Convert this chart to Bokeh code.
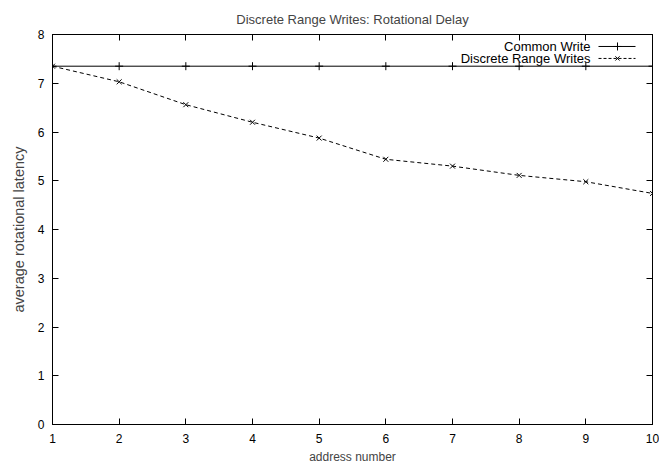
from bokeh.plotting import figure
from bokeh.models import LinearAxis, Range1d, FixedTicker, Title
from bokeh.core.properties import value
from bokeh.embed import file_html
from bokeh.resources import INLINE

# data
address = [1, 2, 3, 4, 5, 6, 7, 8, 9, 10]
common_write = [7.35] * 10
discrete_writes = [7.35, 7.03, 6.56, 6.20, 5.875, 5.44, 5.30, 5.11, 4.98, 4.74]
x_ticks = [1, 2, 3, 4, 5, 6, 7, 8, 9, 10]
y_ticks = [0, 1, 2, 3, 4, 5, 6, 7, 8]
series_names = ["Common Write", "Discrete Range Writes"]

FONT = "Liberation Sans"

p = figure(width=659, height=466, output_backend="svg", toolbar_location=None,
           x_range=Range1d(1, 10), y_range=Range1d(0, 8),
           x_axis_type=None, y_axis_type=None)
p.min_border_left = 52
p.min_border_right = 7
p.min_border_top = 34
p.min_border_bottom = 41
p.outline_line_color = "black"
p.outline_line_width = 1
p.xgrid.visible = False
p.ygrid.visible = False
p.background_fill_color = "white"
p.border_fill_color = "white"

def mk_axis(ticks, labels=True):
    ax = LinearAxis(ticker=FixedTicker(ticks=ticks))
    ax.major_tick_in = 6
    ax.major_tick_out = 0
    ax.minor_tick_line_color = None
    ax.axis_line_color = "black"
    ax.major_tick_line_color = "black"
    ax.major_label_text_font = FONT
    ax.major_label_text_font_size = "12px"
    ax.major_label_text_color = "black"
    if not labels:
        ax.major_label_text_color = None
        ax.major_label_standoff = 0
    return ax

xb = mk_axis(x_ticks); xb.major_label_standoff = 9
yl = mk_axis(y_ticks); yl.major_label_standoff = 8
xt = mk_axis(x_ticks, labels=False)
yr = mk_axis(y_ticks, labels=False)
p.add_layout(xb, "below")
p.add_layout(yl, "left")
p.add_layout(xt, "above")
p.add_layout(yr, "right")

p.add_layout(Title(text="address number", align="center", standoff=5,
                   text_font=FONT, text_font_size="12px", text_font_style="normal"), "below")
p.add_layout(Title(text="average rotational latency", align="center", offset=-8, standoff=16,
                   text_font=FONT, text_font_size="14.5px", text_font_style="normal"), "left")
p.add_layout(Title(text="Discrete Range Writes: Rotational Delay", align="center", standoff=16,
                   text_font=FONT, text_font_size="13px", text_font_style="normal"), "above")

# series
p.line(address, common_write, line_color="black", line_width=1)
p.scatter(address, common_write, marker="cross", size=8, line_color="black", line_width=1)
p.line(address, discrete_writes, line_color="black", line_width=1, line_dash="4 3")
p.scatter(address, discrete_writes, marker="x", size=7, line_color="black", line_width=1)

# gnuplot-style legend (text right-aligned, key sample to the right)
dx = 9 / 600.0
dy = 8 / 391.0
lx_text = 1 + (590 - 52) * dx
lx0 = 1 + (598 - 52) * dx
lx1 = 1 + (635 - 52) * dx
lxm = 1 + (617 - 52) * dx
ly = [8 - (46 - 34) * dy, 8 - (58 - 34) * dy]
p.text([lx_text, lx_text], ly, text=series_names, text_align="right", text_baseline="middle",
       text_font=value(FONT), text_font_size="13px", text_color="black")
p.line([lx0, lx1], [ly[0], ly[0]], line_color="black", line_width=1)
p.scatter([lxm], [ly[0]], marker="cross", size=8, line_color="black")
p.line([lx0, lx1], [ly[1], ly[1]], line_color="black", line_width=1, line_dash="3 2")
p.scatter([lxm], [ly[1]], marker="x", size=6, line_color="black")

open("out.html", "w").write(file_html(p, INLINE))
